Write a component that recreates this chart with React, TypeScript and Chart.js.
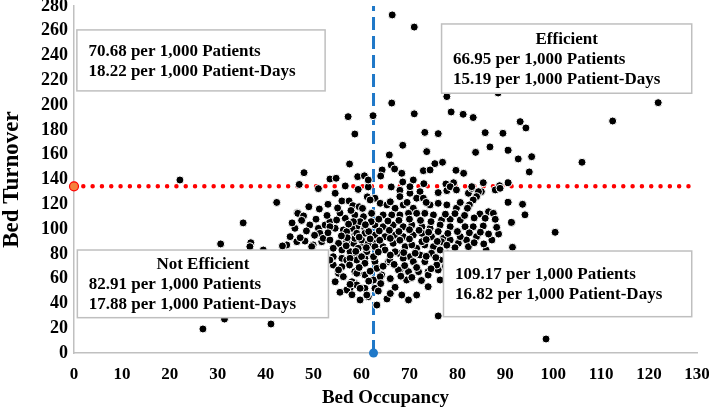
import React, { useEffect, useRef } from "react";
import { Chart, registerables } from "chart.js";

Chart.register(...registerables);

// Bed occupancy (x) and bed turnover (y) for each hospital
const occupancy: number[] = [
  22.1, 26.9, 31.4, 30.6, 35.3, 36.9, 36.7, 39.5, 41.1, 42.3,
  47, 48, 51, 53.4, 54.7, 54.5, 56.6, 57.5, 59.2, 59.3,
  57.2, 58.6, 62.4, 66.4, 71, 66.3, 71, 77.8, 78.7, 81.2,
  83.3, 88.5, 121.9, 112.4, 106, 93.1, 94.3, 85.8, 89.5, 86.8,
  90.6, 92.7, 95.5, 95, 83.8, 73.2, 76, 68.6, 73.6, 65.8,
  75.3, 76.9, 66.2, 66.9, 64.3, 68.4, 72.9, 74.3, 79.7, 81.3,
  60.6, 64, 61.4, 66.2, 68.6, 70.8, 73, 77.6, 79.2, 82.3,
  83, 85.4, 88.8, 90.6, 70.1, 72.2, 68, 76, 77.8, 85,
  87.9, 61.4, 55.9, 57.4, 58.2, 59.5, 60.2, 61.2, 51.2, 46.6,
  70.1, 68, 71.5, 72.9, 74.3, 78.5, 76, 77.8, 62.8, 63.9,
  65.3, 67, 68.7, 70.8, 61.8, 79.8, 79.8, 83, 84.4, 84,
  83.3, 82.5, 82.1, 88.9, 90.6, 93.6, 86.5, 84.7, 94.1, 91.3,
  100.4, 91.5, 88.6, 87.2, 88.2, 87.5, 85.8, 87.9, 85.4, 83.3,
  81.6, 84, 81.9, 80.2, 82.3, 86, 80.6, 78.5, 76.7, 75,
  73.2, 71.5, 69.8, 68, 66.3, 64.5, 62.1, 60.4, 58.6, 59,
  60.7, 62.8, 64.5, 66.6, 68.7, 70.5, 72.6, 74.3, 76.4, 78.5,
  58.6, 60.7, 62.8, 64.9, 67, 68.7, 70.8, 72.6, 74.6, 77.1,
  78.5, 80.6, 58.3, 60.4, 62.5, 64.5, 66.6, 69.1, 71.5, 73.2,
  75, 76.4, 58.6, 60.7, 62.8, 65.6, 67.7, 70.1, 72.2, 74.6,
  76.4, 58.6, 60.7, 62.5, 64.2, 68, 69.8, 71.9, 73.9, 76,
  76.4, 73.9, 58.6, 60.7, 59.7, 61.4, 63.2, 65.3, 67, 68.4,
  69.8, 71.5, 76, 98.5, 66, 69.5, 73.5, 80.6, 46.1, 45.1,
  44.4, 46.5, 48.2, 49.9, 51.7, 49.2, 51, 51.3, 52.4, 53.4,
  54.8, 56.6, 54.5, 56.2, 58, 59.7, 52, 53.4, 55.2, 56.9,
  58.6, 60, 61.4, 54.1, 55.9, 57.6, 59.3, 61.1, 54.1, 55.9,
  54.1, 55.9, 57.2, 59, 60, 60.7, 55.2, 54.5, 59.3, 58,
  57.6, 59, 59.7, 61.1, 46.7, 47.9, 43.5, 49.6, 53.4, 56.9,
  58.3, 59, 53.4, 55.2, 56.9, 57.6, 56.2, 56.9, 57.6, 59,
  62.8, 62.5, 63.2, 63.9, 62.8, 69.4, 67.7, 73.9, 75.7, 73.2,
  70.8, 68.7, 67, 64.9, 65.9, 70.5, 72.6, 76.7,
  50.5, 52.8, 55.5, 57.8, 49, 53, 55, 62, 63.6, 65.5,
  67.8, 70, 72.3, 74.5, 77.5, 79.5, 81.5, 83.5, 61.5, 63.7,
  65.8, 67.8, 70, 72, 74, 76, 78, 80, 82.5, 84.8,
  86.5, 57, 59.5, 61.8, 63.8, 66, 68, 70, 73.5, 75.8,
  79.5, 77.8, 83.5, 85.5, 56.8, 58.8, 61, 63.5, 66, 68.8,
  71.2, 73.5, 75.5, 78, 80.5, 57.5, 59.5, 61.8, 64.5, 66.8,
  69, 71.5, 74.5, 77.5, 55.5, 58, 61.5, 64, 66, 68.2,
  70.5, 72.5, 63.5, 66, 50.2, 48.5, 47.2, 53, 55.8, 57.3,
  60.8, 45.5, 47.5,
];

const turnover: number[] = [
  139.6, 19.4, 27.4, 88, 105, 89, 85.8, 83.1, 23.4, 121.5,
  136, 145.5, 132.6, 140.4, 141, 128.9, 134.8, 152.5, 142.3, 132,
  190.7, 176.7, 191.5, 272.8, 263, 201.7, 193, 206.9, 194.5, 192.6,
  190, 209.8, 202, 187.2, 153.9, 186.7, 181.6, 177.8, 177.3, 166.3,
  163.6, 156.6, 158.4, 146.1, 161.9, 178, 177, 167.6, 162.5, 159.8,
  152.8, 153.9, 151.7, 148.5, 147.7, 145, 147.1, 147.7, 147.4, 145,
  143, 142.8, 134, 134, 138, 139.6, 136.6, 136.4, 137.4, 128.9,
  132.9, 137.4, 135, 137.4, 128.9, 130.2, 131.3, 129.4, 131, 130.2,
  131.6, 139.6, 122.7, 122.7, 118.9, 118, 116.7, 126, 116.2, 113.2,
  134.2, 126.2, 124.9, 124.9, 119.5, 134.2, 120.8, 119.5, 124.9, 120.8,
  119.5, 116.8, 119.5, 116.8, 123.5, 131.6, 116.8, 134.2, 130.2, 126.2,
  123.5, 119.5, 116.8, 132.9, 121.6, 120, 114, 112.2, 111.5, 105.4,
  97.4, 85.3, 96, 91.2, 101.4, 112.7, 108.7, 107.9, 102.5, 101.9,
  101.9, 93.9, 91.2, 88.5, 85.8, 83.1, 107.3, 107.9, 107.3, 111.4,
  112.7, 112.7, 112.7, 111.4, 111.4, 111.4, 112.7, 110, 111.4, 101.9,
  100.6, 103.3, 101.9, 103.3, 101.9, 103.3, 101.9, 100.6, 103.3, 101.9,
  95.2, 96.6, 95.2, 93.9, 95.2, 93.9, 95.2, 96.6, 93.9, 92.5,
  91.2, 93.9, 88.5, 87.2, 88.5, 85.8, 88.5, 85.8, 84.5, 87.2,
  85.8, 83.1, 79.1, 76.4, 73.7, 73.7, 80.5, 77.7, 79.1, 80.5,
  75, 65.6, 63, 58.9, 63, 66.4, 65.6, 65.6, 65.6, 67,
  58.9, 53.5, 56.3, 52.2, 42.8, 45.4, 38.7, 43.6, 53, 46.8,
  42.8, 46.8, 29.9, 11.3, 122, 121.5, 121.5, 121.5, 100.6, 93.9,
  87.2, 89.8, 90.3, 87.2, 89.8, 103.3, 100.6, 96.6, 103.3, 106,
  107.3, 108.7, 100.6, 99.3, 100.6, 106, 92.5, 91.2, 88.5, 89.8,
  92.5, 91.2, 88.5, 84.5, 83.1, 81.8, 84.5, 81.8, 77.7, 76.4,
  71, 69.6, 73.7, 75, 77.7, 72.4, 64.3, 57.5, 64.3, 57.5,
  52.2, 54.9, 52.2, 46.8, 112.7, 110.6, 86.4, 85.8, 101.9, 97.9,
  106, 96.6, 75, 67, 75, 76.4, 61.6, 50.8, 55.4, 64.3,
  85.8, 77.7, 68.3, 61.6, 52.2, 58.9, 67, 62.9, 71, 73.7,
  73.7, 76.4, 81.7, 83.1, 75, 87.2, 89.8, 89.8,
  108, 111, 113, 115, 118, 120, 117, 106, 108, 106.5,
  107, 108, 107, 106, 112, 112.5, 111, 109, 98, 98.5,
  99, 98, 99.5, 99, 97.5, 98, 96.5, 98, 97, 97.5,
  96, 93, 93.5, 92, 91, 92.5, 91, 92, 91.5, 90,
  85, 87, 89, 88, 86.5, 82, 85, 81.5, 79, 81,
  80.5, 78, 77, 80, 79, 71, 69, 66, 70, 71.5,
  70.5, 69, 68, 70, 49, 47, 58, 56, 60, 62,
  61, 58.5, 50, 48, 95, 98.5, 93, 97, 94.5, 104,
  103.5, 105, 107,
];

// Mean reference values
const MEAN_OCCUPANCY = 62.5;
const MEAN_TURNOVER = 134.5;

// Axis ranges
const X_MIN = 0;
const X_MAX = 130;
const X_STEP = 10;
const Y_MIN = 0;
const Y_MAX = 280;
const Y_STEP = 20;

// Quadrant annotation texts
const BOX_TL_LINES = ["70.68 per 1,000 Patients", "18.22 per 1,000 Patient-Days"];
const BOX_TR_LINES = ["Efficient", "66.95 per 1,000 Patients", "15.19 per 1,000 Patient-Days"];
const BOX_BL_LINES = ["Not Efficient", "82.91 per 1,000 Patients", "17.88 per 1,000 Patient-Days"];
const BOX_BR_LINES = ["109.17 per 1,000 Patients", "16.82 per 1,000 Patient-Days"];

const SERIF = '"Liberation Serif", "Times New Roman", serif';

// Box placement (data coordinates) and text layout
const BOXES = [
  { x1: 0.6, x2: 52.4, yTop: 260.7, yBot: 211.5, lines: BOX_TL_LINES, heading: false, first: 21.7 },
  { x1: 76.7, x2: 128.9, yTop: 265.5, yBot: 209.6, lines: BOX_TR_LINES, heading: true, first: 16 },
  { x1: 0.7, x2: 53.1, yTop: 83.1, yBot: 28.5, lines: BOX_BL_LINES, heading: true, first: 14.5 },
  { x1: 77.1, x2: 128.9, yTop: 82.3, yBot: 29.3, lines: BOX_BR_LINES, heading: false, first: 24 },
];

const boxPlugin = {
  id: "quadrantBoxes",
  afterDatasetsDraw(chart: any) {
    const { ctx } = chart;
    const xs = chart.scales.x;
    const ys = chart.scales.y;
    ctx.save();
    BOXES.forEach((b) => {
      const l = xs.getPixelForValue(b.x1);
      const r = xs.getPixelForValue(b.x2);
      const t = ys.getPixelForValue(b.yTop);
      const bt = ys.getPixelForValue(b.yBot);
      ctx.fillStyle = "#ffffff";
      ctx.fillRect(l, t, r - l, bt - t);
      ctx.strokeStyle = "#bfbfbf";
      ctx.lineWidth = 1.5;
      ctx.strokeRect(l, t, r - l, bt - t);
      ctx.fillStyle = "#000000";
      ctx.font = `bold 17px ${SERIF}`;
      ctx.textBaseline = "middle";
      b.lines.forEach((line, i) => {
        const yy = t + b.first + i * 20;
        if (b.heading && i === 0) {
          ctx.textAlign = "center";
          ctx.fillText(line, (l + r) / 2, yy);
        } else {
          ctx.textAlign = "left";
          ctx.fillText(line, l + 11.5, yy);
        }
      });
    });
    ctx.restore();
  },
};

export default function App() {
  const ref = useRef<HTMLCanvasElement | null>(null);

  useEffect(() => {
    if (!ref.current) return;
    const points = occupancy.map((x, i) => ({ x, y: turnover[i] }));
    const chart = new Chart(ref.current, {
      type: "scatter",
      data: {
        datasets: [
          {
            type: "scatter",
            data: points,
            backgroundColor: "#000000",
            borderColor: "#ffffff",
            borderWidth: 1,
            pointRadius: 4,
            order: 0,
          } as any,
          {
            type: "line",
            data: [
              { x: X_MIN, y: MEAN_TURNOVER },
              { x: X_MAX, y: MEAN_TURNOVER },
            ],
            borderColor: "#ff0000",
            borderWidth: 4.5,
            borderDash: [0.01, 9.3],
            borderCapStyle: "round",
            pointRadius: [4.5, 0],
            pointBackgroundColor: "#f5823c",
            pointBorderColor: "#ff0000",
            pointBorderWidth: 1.2,
            clip: false,
            order: 1,
          } as any,
          {
            type: "line",
            data: [
              { x: MEAN_OCCUPANCY, y: Y_MIN },
              { x: MEAN_OCCUPANCY, y: Y_MAX },
            ],
            borderColor: "#1f78c8",
            borderWidth: 3,
            borderDash: [13, 6],
            pointRadius: [4.5, 0],
            pointBackgroundColor: "#1f78c8",
            pointBorderColor: "#1f78c8",
            pointBorderWidth: 0,
            clip: false,
            order: 2,
          } as any,
        ],
      },
      options: {
        animation: false,
        responsive: false,
        devicePixelRatio: 1,
        layout: { padding: 0 },
        plugins: {
          legend: { display: false },
          tooltip: { enabled: false },
        },
        scales: {
          x: {
            type: "linear",
            min: X_MIN,
            max: X_MAX,
            ticks: {
              stepSize: X_STEP,
              color: "#000",
              font: { family: SERIF, size: 17, weight: "bold" },
              padding: 11,
              maxRotation: 0,
              autoSkip: false,
            },
            grid: { display: false, drawTicks: false },
            border: { display: true, color: "#c0c0c0", width: 1.5 },
            title: {
              display: true,
              text: "Bed Occupancy",
              color: "#000",
              font: { family: SERIF, size: 19, weight: "bold" },
              padding: { top: 2, bottom: 0 },
            },
            afterFit: (s: any) => {
              s.height = 56;
              s.paddingRight = 12;
            },
          },
          y: {
            type: "linear",
            min: Y_MIN,
            max: Y_MAX,
            ticks: {
              stepSize: Y_STEP,
              color: "#000",
              font: { family: SERIF, size: 18, weight: "bold" },
              padding: 6,
              autoSkip: false,
            },
            grid: { display: false, drawTicks: false },
            border: { display: true, color: "#c0c0c0", width: 1.5 },
            title: {
              display: true,
              text: "Bed Turnover",
              color: "#000",
              font: { family: SERIF, size: 23, weight: "bold" },
              padding: { top: -2, bottom: 0 },
            },
            afterFit: (s: any) => {
              s.width = 74;
              s.paddingTop = 6;
            },
          },
        },
      },
      plugins: [boxPlugin],
    } as any);
    return () => chart.destroy();
  }, []);

  return (
    <div style={{ position: "fixed", left: 0, top: 0, width: 709, height: 409, background: "#fff" }}>
      <canvas ref={ref} width={709} height={409} style={{ width: 709, height: 409, display: "block" }} />
    </div>
  );
}
